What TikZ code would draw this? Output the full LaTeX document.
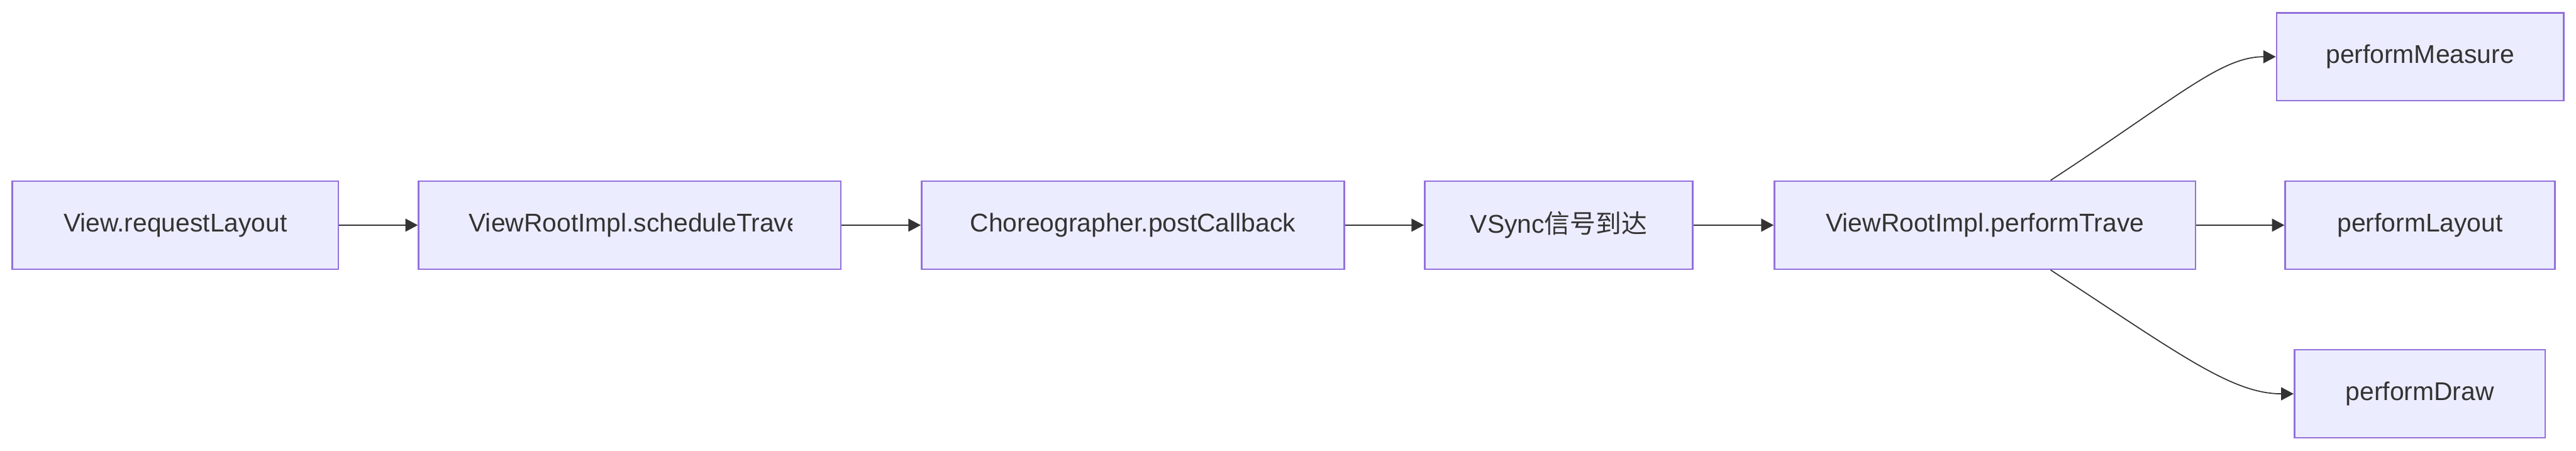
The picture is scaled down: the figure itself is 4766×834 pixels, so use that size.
\documentclass[tikz,border=0pt]{standalone}
\usepackage{fontspec}
\setmainfont{Liberation Sans}
\newfontfamily\cjk{Noto Sans CJK SC}
\usetikzlibrary{arrows.meta}
\definecolor{boxfill}{HTML}{ECECFF}
\definecolor{boxline}{HTML}{9370DB}
\definecolor{ink}{HTML}{333333}
\tikzset{
  flowbox/.style={draw=boxline, fill=boxfill, line width=1.5pt, minimum height=81.5pt,
    inner sep=0pt, text=ink, font=\fontsize{23.75}{28}\selectfont},
  boxtext/.style={inner sep=0pt, text=ink, font=\fontsize{23.75}{28}\selectfont},
  arr/.style={draw=ink, line width=1pt, -{Triangle[length=11.5pt,width=12pt]}}
}
\begin{document}
\begin{tikzpicture}[x=0.5pt,y=-0.5pt]
\useasboundingbox (0,0) rectangle (4766,834);
\node[flowbox, minimum width=301.5pt] (view) at (324.5,416.5) {View.requestLayout};
\node[flowbox, minimum width=390.5pt] (sched) at (1165,416.5) {};
\begin{scope}
  \clip (800,340) rectangle (1466,495);
  \node[boxtext, anchor=west] (schedtxt) at (867,416.5) {ViewRootImpl.scheduleTraversals};
\end{scope}
\node[flowbox, minimum width=391pt] (chor) at (2096,416.5) {Choreographer.postCallback};
\node[flowbox, minimum width=248pt] (vsync) at (2884,416.5) {VSync{\cjk 信号到达}};
\node[flowbox, minimum width=389.5pt] (trav) at (3672.5,416.5) {ViewRootImpl.performTrave};
\node[flowbox, minimum width=265.5pt, minimum height=81pt] (meas) at (4477.5,105) {performMeasure};
\node[flowbox, minimum width=249.5pt] (lay) at (4477.5,416.5) {performLayout};
\node[flowbox, minimum width=232pt] (pdraw) at (4477,728.5) {performDraw};

\draw[arr] (view) -- (sched);
\draw[arr] (sched) -- (chor);
\draw[arr] (chor) -- (vsync);
\draw[arr] (vsync) -- (trav);
\draw[arr] (trav) -- (lay);
\draw[arr] ([xshift=60.75pt]trav.north) .. controls +(236,-154) and +(-102,0) .. (meas.west);
\draw[arr] ([xshift=60.75pt]trav.south) .. controls +(236,154) and +(-115,0) .. (pdraw.west);
\end{tikzpicture}
\end{document}
